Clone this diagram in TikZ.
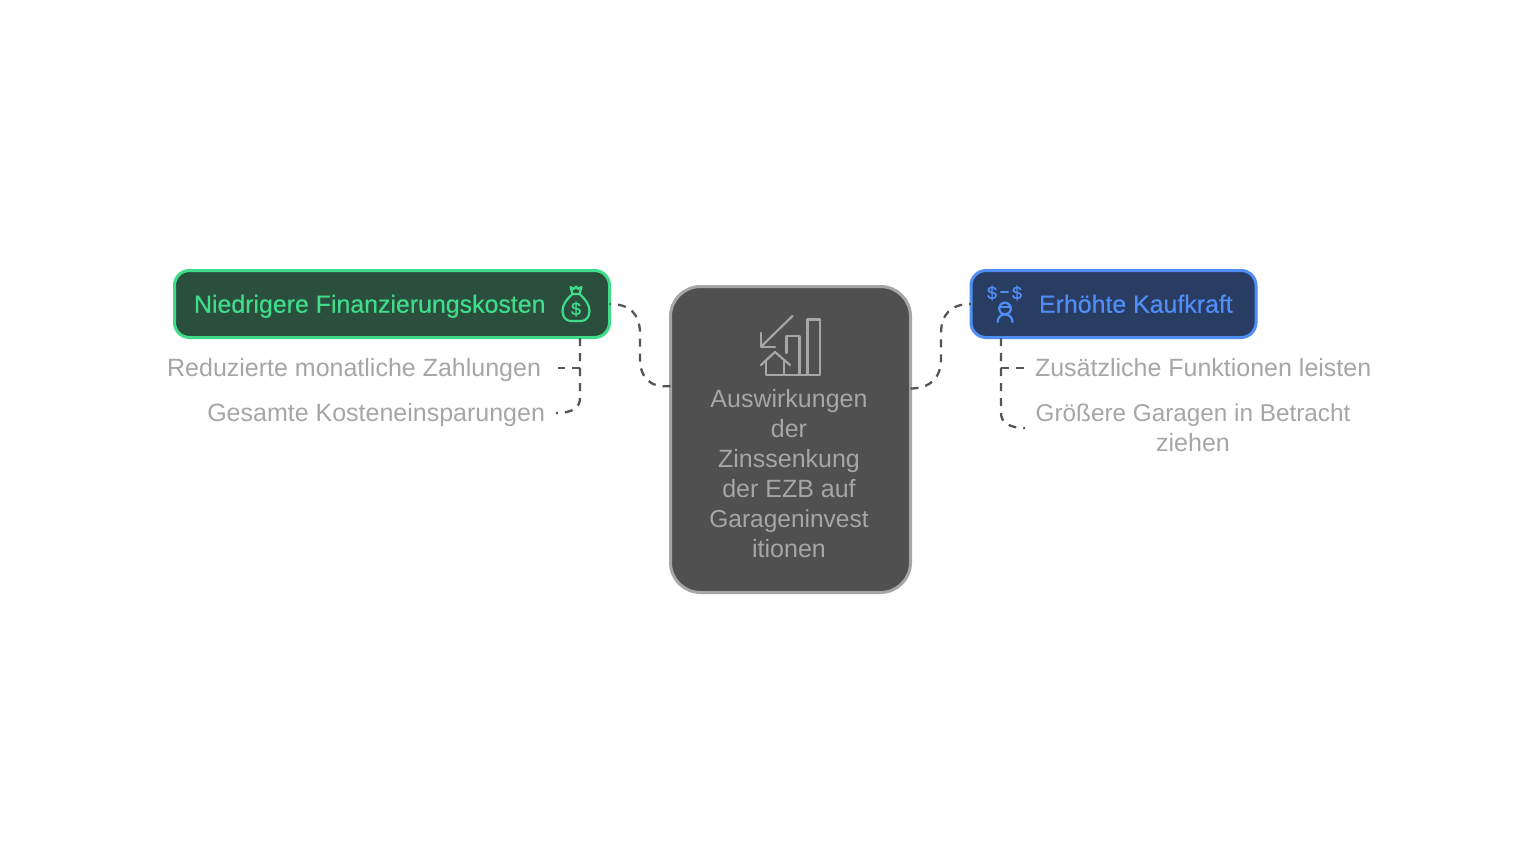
\documentclass[tikz,border=0pt]{standalone}
\usepackage{fontspec}
\setmainfont{Liberation Sans}
\newfontfamily\titlefont[FakeBold=0.4]{Liberation Sans}
\newfontfamily\symfont[FakeBold=1.2]{Liberation Sans}
\definecolor{greenfill}{HTML}{2B4F3D}
\definecolor{greenline}{HTML}{3FDC8A}
\definecolor{bluefill}{HTML}{293D63}
\definecolor{blueline}{HTML}{4F8EF7}
\definecolor{centerfill}{HTML}{505050}
\definecolor{lightgrey}{HTML}{A6A6A6}
\definecolor{dashgrey}{HTML}{555555}
\tikzset{
  box/.style={rounded corners=15pt,line width=3pt,inner sep=0pt,outer sep=0pt},
  label/.style={inner sep=0pt,outer sep=0pt,font=\fontsize{25}{30}\selectfont,text=lightgrey,align=center},
  title/.style={inner sep=0pt,outer sep=0pt,font=\titlefont\fontsize{24.9}{30}\selectfont},
  conn/.style={dash pattern=on 8pt off 7pt,line width=2.3pt,draw=dashgrey},
  icon/.style={line width=2.2pt,line join=round,line cap=round},
  sym/.style={inner sep=0pt,font=\symfont\fontsize{18}{18}\selectfont},
}
\begin{document}
\begin{tikzpicture}[x=1pt,y=-1pt]
\useasboundingbox (0,0) rectangle (1536,864);
\fill[white] (0,0) rectangle (1536,864);
\node[box,draw=greenline,fill=greenfill,minimum width=435pt,minimum height=67pt] (left) at (392,304) {};
\node[box,draw=blueline,fill=bluefill,minimum width=285pt,minimum height=67pt] (right) at (1113.5,304) {};
\node[box,rounded corners=30pt,draw=lightgrey,fill=centerfill,minimum width=240pt,minimum height=306pt] (center) at (790.5,439.5) {};
% texts
\node[title,text=greenline,anchor=base west] (lefttext) at (194,312.7) {Niedrigere Finanzierungskosten};
\node[title,text=blueline,anchor=base west] (righttext) at (1039,312.7) {Erhöhte Kaufkraft};
\node[label,anchor=north] (centertext) at (789,389) {Auswirkungen\\der\\Zinssenkung\\der EZB auf\\{\fontsize{24.5}{30}\selectfont Garageninvest}\\itionen};
\node[label,anchor=base east] (la) at (541,376.7) {Reduzierte monatliche Zahlungen};
\node[label,anchor=base east] (lb) at (545,421.7) {Gesamte Kosteneinsparungen};
\node[label,anchor=base west] (ra) at (1035,376.7) {Zusätzliche Funktionen leisten};
\node[label,anchor=north] (rb) at (1193,404) {{\fontsize{24.3}{30}\selectfont Größere Garagen in Betracht}\\ziehen};
% connector ends
\coordinate (laend) at (558,368);
\coordinate (lbend) at (556,413);
\coordinate (raend) at (1025,368);
\coordinate (rbend) at (1025,428);
\draw[conn] (center.156.6) .. controls (650,388) and (640,378) .. (640,358) -- (640,334) .. controls (640,314) and (630,304) .. (left.east);
\draw[conn] (center.23.4) .. controls (931,388) and (941,378) .. (941,358) -- (941,334) .. controls (941,314) and (951,304) .. (right.west);
\draw[conn] (580,338) -- (580,368) -- (laend);
\draw[conn] (580,338) -- (580,398) .. controls (580,408) and (572,413) .. (lbend);
\draw[conn] (1001,338) -- (1001,368) -- (raend);
\draw[conn] (1001,338) -- (1001,413) .. controls (1001,423) and (1010,428) .. (rbend);
% money bag
\begin{scope}[icon,draw=greenline]
\draw (572.5,294) .. controls (566,300) and (562.5,305) .. (562.5,311) .. controls (562.5,317) and (566,321) .. (571,321) -- (581,321) .. controls (586,321) and (589.5,317) .. (589.5,311) .. controls (589.5,305) and (586,300) .. (579.5,294) -- cycle;
\draw (572.5,294) -- (570.5,287) -- (574,289) -- (576,286.5) -- (578,289) -- (581.5,287) -- (579.5,294);
\end{scope}
\node[sym,text=greenline] (bagdollar) at (576,309) {\$};
% person icon
\node[sym,text=blueline] (da) at (992,293) {\$};
\node[sym,text=blueline] (db) at (1017,293) {\$};
\begin{scope}[icon,draw=blueline]
\draw (1001,292) -- (1008,292);
\draw (1005,308.5) circle (5.8);
\draw (1000,307) -- (1010,307);
\draw (997.5,322) .. controls (998,317) and (1001,314.5) .. (1005,314.5) .. controls (1009,314.5) and (1012,317) .. (1012.5,322);
\end{scope}
% chart icon
\begin{scope}[icon,draw=lightgrey]
\draw (792.5,316) -- (761,346.7);
\draw (761,333) -- (761,346.7) -- (775,346.7);
\draw (807.5,375) -- (807.5,319.5) -- (820,319.5) -- (820,375) -- (766,375) -- (766,361.5);
\draw (786.5,353) -- (786.5,336) -- (799.5,336) -- (799.5,375);
\draw (761,365) -- (775,352) -- (790,365);
\draw (784,360) -- (784,375);
\end{scope}
\end{tikzpicture}
\end{document}
